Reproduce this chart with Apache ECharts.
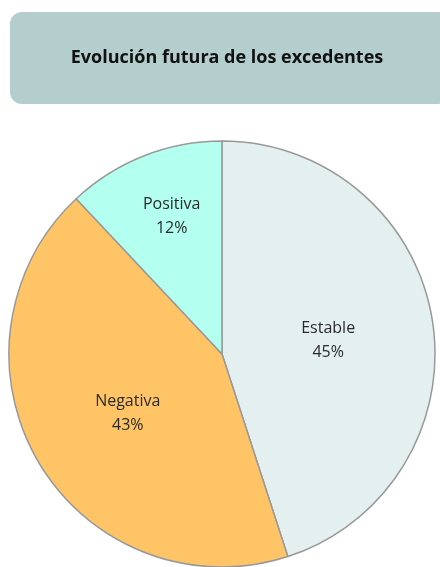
<!DOCTYPE html>
<html>
<head>
<meta charset="utf-8">
<script src="https://cdn.jsdelivr.net/npm/echarts@6/dist/echarts.min.js"></script>
<style>
  html, body { margin: 0; padding: 0; background: #fff; }
  #chart { width: 440px; height: 567px; }
</style>
</head>
<body>
<div id="chart"></div>
<script>
// datos del gráfico
const categories = ['Estable', 'Negativa', 'Positiva'];
const values = [45, 43, 12];
const colors = ['#e4f0f0', '#ffc466', '#b3fff0'];

const chart = echarts.init(document.getElementById('chart'));

chart.setOption({
  animation: false,
  graphic: [
    {
      type: 'rect',
      shape: { x: 10, y: 12, width: 440, height: 92, r: 12 },
      style: { fill: '#b4cdcd' },
      z: 0
    },
    {
      type: 'text',
      x: 227,
      y: 58,
      style: {
        text: 'Evolución futura de los excedentes',
        fill: '#111',
        font: 'bold 18px "Open Sans"',
        align: 'center',
        verticalAlign: 'middle'
      },
      z: 1
    }
  ],
  series: [
    {
      type: 'pie',
      center: [222, 354],
      radius: [0, 213],
      startAngle: 90,
      clockwise: true,
      data: categories.map((name, i) => ({
        name: name,
        value: values[i],
        itemStyle: { color: colors[i] }
      })),
      itemStyle: { borderColor: '#999', borderWidth: 1.5 },
      label: {
        position: 'inside',
        formatter: '{b}\n{c}%',
        color: '#2a2a2a',
        fontFamily: '"Open Sans"',
        fontSize: 16,
        lineHeight: 24
      },
      labelLine: { show: false },
      emphasis: { disabled: true },
      // Excel coloca la etiqueta de Positiva más hacia fuera
      labelLayout: function (params) {
        if (params.dataIndex === 2) return { dx: -10, dy: -36 };
        if (params.dataIndex === 1) return { dy: 4 };
        if (params.dataIndex === 0) return { dx: -2, dy: 4 };
        return {};
      }
    }
  ]
});
</script>
</body>
</html>
